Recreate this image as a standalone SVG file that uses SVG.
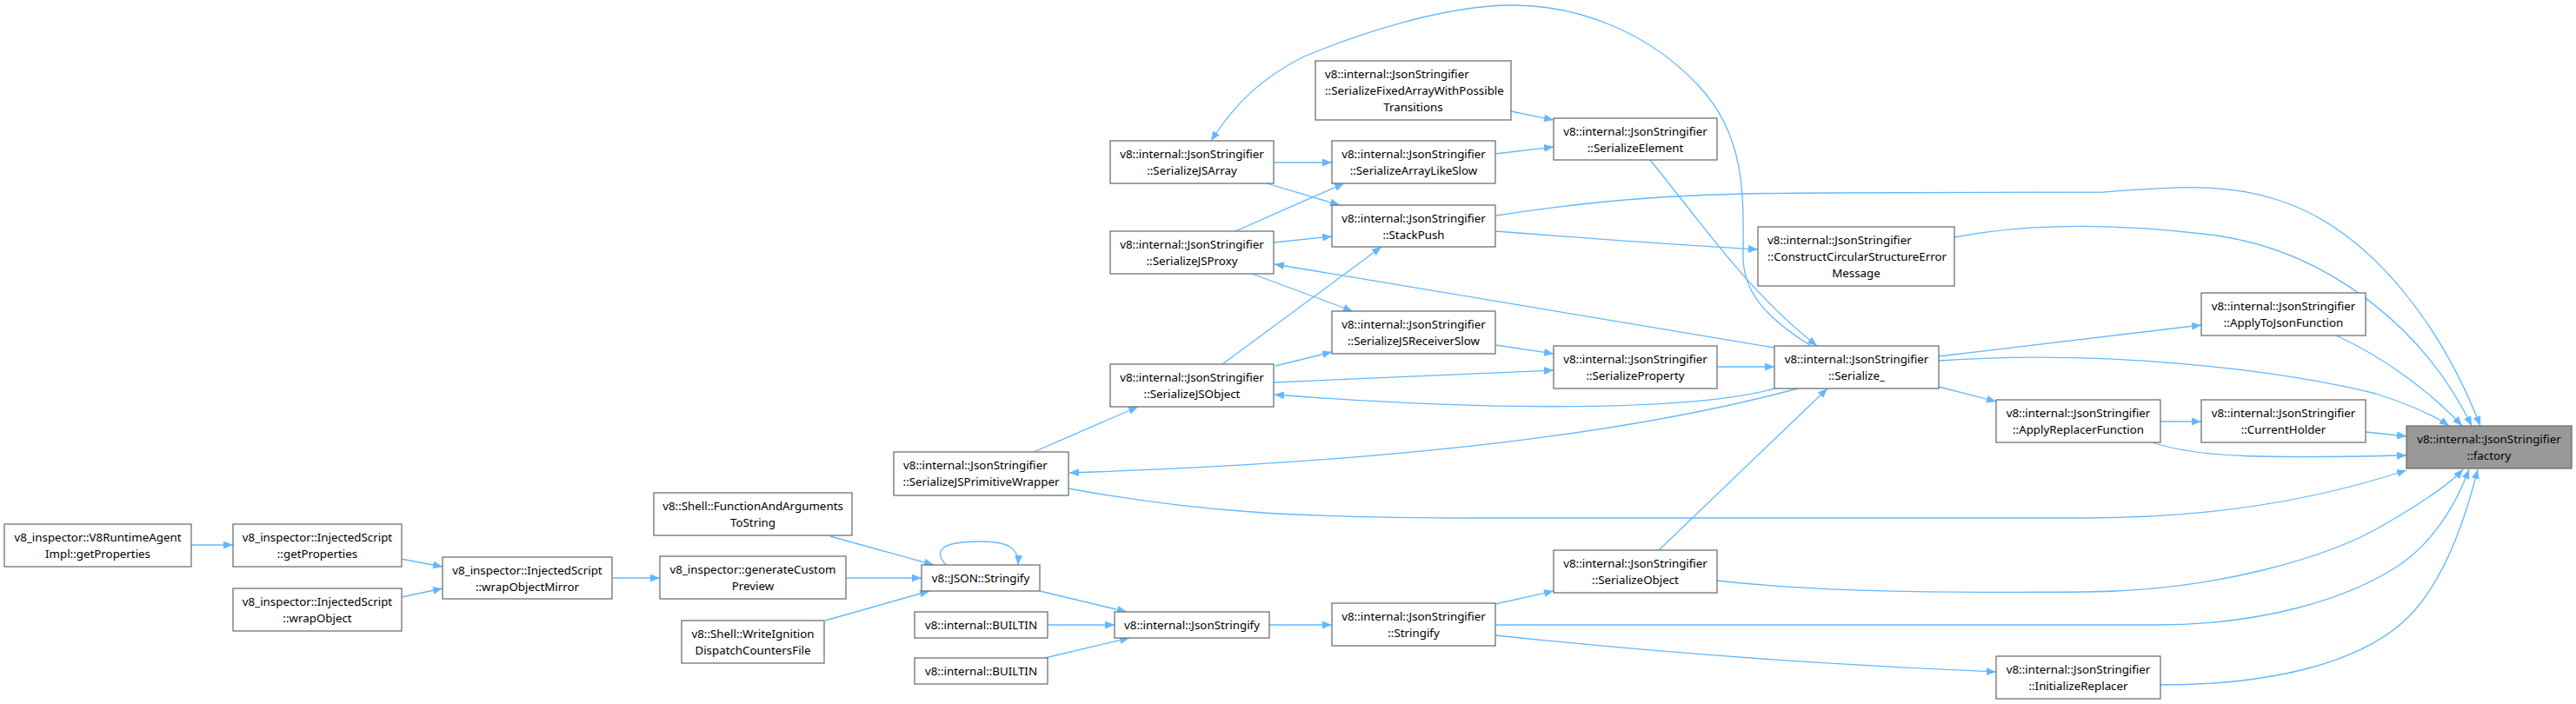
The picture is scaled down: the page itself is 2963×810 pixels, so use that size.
<svg xmlns="http://www.w3.org/2000/svg" width="2963" height="810" viewBox="0 0 2963 810">
<style>
.node rect{fill:#ffffff;stroke:#666666;stroke-width:1.2}
.node.hl rect{fill:#999999}
text{font-family:"Noto Sans","DejaVu Sans",sans-serif;font-size:13.33px;fill:#000000}
.c{text-anchor:middle}
.l{text-anchor:start}
#edges path{fill:none;stroke:#63B8FF;stroke-width:1.3;marker-end:url(#arr)}
</style>
<defs>
<marker id="arr" markerUnits="userSpaceOnUse" viewBox="0 0 11 9" markerWidth="11" markerHeight="9" refX="11" refY="4.5" orient="auto">
<path d="M0,0 L11,4.5 L0,9 z" fill="#63B8FF"/>
</marker>
</defs>
<rect width="2963" height="810" fill="#ffffff"/>
<g id="edges">
<path d="M220,627 L268,627"/>
<path d="M461,643 L509,652"/>
<path d="M462,687 L509,677"/>
<path d="M704,665 L759,665"/>
<path d="M955,617 L1074,650"/>
<path d="M973,665 L1060,665"/>
<path d="M949,714 L1069,680"/>
<path d="M1088,650 C1072,632 1085,623 1128,623 C1162,623 1172,632 1171,650"/>
<path d="M1196,680 L1296,704"/>
<path d="M1205,719 L1282,719"/>
<path d="M1202,757 L1299,734"/>
<path d="M1460,719 L1532,719"/>
<path d="M1720,695 L1787,680"/>
<path d="M1720,719 L2480,719 C2600,719 2700,690 2760,650 C2800,622 2825,580 2840,540"/>
<path d="M1720,731 C1900,750 2100,765 2296,773"/>
<path d="M2485,788 C2620,788 2720,760 2770,710 C2810,670 2835,600 2850,540"/>
<path d="M1908,633 L2102,447"/>
<path d="M1975,668 C2100,682 2250,682 2400,681 C2550,680 2680,640 2740,605 C2780,582 2815,560 2833,540"/>
<path d="M1189,520 L1309,468"/>
<path d="M1229,562 C1380,590 1500,596 1700,596 L2400,596 C2560,596 2680,570 2768,541"/>
<path d="M2068,447 C1900,492 1650,530 1230,544"/>
<path d="M2041,447 C1960,470 1750,476 1466,454"/>
<path d="M2041,400 L1466,304"/>
<path d="M2083,398 C2030,365 2005,335 2005,295 C2005,230 2010,160 1955,100 C1900,40 1820,6 1740,6 C1660,6 1560,40 1500,65 C1450,90 1420,120 1393,162"/>
<path d="M2230,410 L2532,374"/>
<path d="M2230,445 L2296,462"/>
<path d="M2230,415 C2420,402 2620,425 2733,453 C2770,465 2800,478 2817,490"/>
<path d="M1975,422 L2041,422"/>
<path d="M1898,184 C1960,260 2010,335 2090,398"/>
<path d="M1467,421 L1532,405"/>
<path d="M1465,440 L1787,426"/>
<path d="M1406,419 L1589,284"/>
<path d="M1720,397 L1787,407"/>
<path d="M1440,315 L1556,358"/>
<path d="M1465,279 L1532,272"/>
<path d="M1421,266 L1546,211"/>
<path d="M1465,187 L1532,187"/>
<path d="M1457,211 L1541,236"/>
<path d="M1720,177 L1787,169"/>
<path d="M1738,128 L1787,138"/>
<path d="M1720,266 C1850,276 1950,283 2022,287"/>
<path d="M1721,248 C1850,228 1950,222 2100,222 L2420,221 C2500,215 2560,210 2620,230 C2730,265 2810,380 2853,490"/>
<path d="M2248,273 C2340,255 2450,258 2550,271 C2680,290 2790,380 2843,490"/>
<path d="M2687,386 C2740,410 2795,450 2832,490"/>
<path d="M2485,485 L2532,485"/>
<path d="M2476,509 C2530,528 2620,527 2768,524"/>
<path d="M2721,497 L2768,502"/>
</g>
<g id="n1" class="node"><rect x="5" y="603" width="215" height="49"/><text class="c" x="112.5" y="622.5">v8_inspector::V8RuntimeAgent</text><text class="c" x="112.5" y="641.5">Impl::getProperties</text></g>
<g id="n2" class="node"><rect x="268" y="603" width="194" height="49"/><text class="c" x="365" y="622.5">v8_inspector::InjectedScript</text><text class="c" x="365" y="641.5">::getProperties</text></g>
<g id="n3" class="node"><rect x="268" y="677" width="194" height="49"/><text class="c" x="365" y="696.5">v8_inspector::InjectedScript</text><text class="c" x="365" y="715.5">::wrapObject</text></g>
<g id="n4" class="node"><rect x="509" y="641" width="195" height="48"/><text class="c" x="606.5" y="660.5">v8_inspector::InjectedScript</text><text class="c" x="606.5" y="679.5">::wrapObjectMirror</text></g>
<g id="n5" class="node"><rect x="752" y="567" width="228" height="49"/><text class="c" x="866" y="586.5">v8::Shell::FunctionAndArguments</text><text class="c" x="866" y="605.5">ToString</text></g>
<g id="n6" class="node"><rect x="759" y="640" width="214" height="49"/><text class="c" x="866" y="659.5">v8_inspector::generateCustom</text><text class="c" x="866" y="678.5">Preview</text></g>
<g id="n7" class="node"><rect x="784" y="714" width="164" height="49"/><text class="c" x="866" y="733.5">v8::Shell::WriteIgnition</text><text class="c" x="866" y="752.5">DispatchCountersFile</text></g>
<g id="n8" class="node"><rect x="1060" y="650" width="136" height="30"/><text class="c" x="1128" y="669.5">v8::JSON::Stringify</text></g>
<g id="n9" class="node"><rect x="1052" y="704" width="153" height="30"/><text class="c" x="1128.5" y="723.5">v8::internal::BUILTIN</text></g>
<g id="n10" class="node"><rect x="1052" y="757" width="153" height="30"/><text class="c" x="1128.5" y="776.5">v8::internal::BUILTIN</text></g>
<g id="n11" class="node"><rect x="1282" y="704" width="178" height="30"/><text class="c" x="1371" y="723.5">v8::internal::JsonStringify</text></g>
<g id="n12" class="node"><rect x="1532" y="694" width="188" height="49"/><text class="c" x="1626" y="713.5">v8::internal::JsonStringifier</text><text class="c" x="1626" y="732.5">::Stringify</text></g>
<g id="n13" class="node"><rect x="1787" y="633" width="188" height="49"/><text class="c" x="1881" y="652.5">v8::internal::JsonStringifier</text><text class="c" x="1881" y="671.5">::SerializeObject</text></g>
<g id="n14" class="node"><rect x="2296" y="755" width="189" height="49"/><text class="c" x="2390.5" y="774.5">v8::internal::JsonStringifier</text><text class="c" x="2390.5" y="793.5">::InitializeReplacer</text></g>
<g id="n15" class="node"><rect x="1028" y="520" width="201" height="50"/><text class="l" x="1039" y="539.5">v8::internal::JsonStringifier</text><text class="c" x="1128.5" y="558.5">::SerializeJSPrimitiveWrapper</text></g>
<g id="n16" class="node"><rect x="1277" y="419" width="188" height="49"/><text class="c" x="1371" y="438.5">v8::internal::JsonStringifier</text><text class="c" x="1371" y="457.5">::SerializeJSObject</text></g>
<g id="n17" class="node"><rect x="1277" y="266" width="188" height="49"/><text class="c" x="1371" y="285.5">v8::internal::JsonStringifier</text><text class="c" x="1371" y="304.5">::SerializeJSProxy</text></g>
<g id="n18" class="node"><rect x="1277" y="162" width="188" height="49"/><text class="c" x="1371" y="181.5">v8::internal::JsonStringifier</text><text class="c" x="1371" y="200.5">::SerializeJSArray</text></g>
<g id="n19" class="node"><rect x="1532" y="162" width="188" height="49"/><text class="c" x="1626" y="181.5">v8::internal::JsonStringifier</text><text class="c" x="1626" y="200.5">::SerializeArrayLikeSlow</text></g>
<g id="n20" class="node"><rect x="1532" y="236" width="188" height="48"/><text class="c" x="1626" y="255.5">v8::internal::JsonStringifier</text><text class="c" x="1626" y="274.5">::StackPush</text></g>
<g id="n21" class="node"><rect x="1532" y="358" width="188" height="49"/><text class="c" x="1626" y="377.5">v8::internal::JsonStringifier</text><text class="c" x="1626" y="396.5">::SerializeJSReceiverSlow</text></g>
<g id="n22" class="node"><rect x="1513" y="70" width="225" height="68"/><text class="l" x="1524" y="89.5">v8::internal::JsonStringifier</text><text class="l" x="1524" y="108.5">::SerializeFixedArrayWithPossible</text><text class="c" x="1625.5" y="127.5">Transitions</text></g>
<g id="n23" class="node"><rect x="1787" y="136" width="188" height="48"/><text class="c" x="1881" y="155.5">v8::internal::JsonStringifier</text><text class="c" x="1881" y="174.5">::SerializeElement</text></g>
<g id="n24" class="node"><rect x="1787" y="398" width="188" height="49"/><text class="c" x="1881" y="417.5">v8::internal::JsonStringifier</text><text class="c" x="1881" y="436.5">::SerializeProperty</text></g>
<g id="n25" class="node"><rect x="2022" y="261" width="226" height="68"/><text class="l" x="2033" y="280.5">v8::internal::JsonStringifier</text><text class="l" x="2033" y="299.5">::ConstructCircularStructureError</text><text class="c" x="2135" y="318.5">Message</text></g>
<g id="n26" class="node"><rect x="2041" y="398" width="189" height="49"/><text class="c" x="2135.5" y="417.5">v8::internal::JsonStringifier</text><text class="c" x="2135.5" y="436.5">::Serialize_</text></g>
<g id="n27" class="node"><rect x="2532" y="337" width="189" height="49"/><text class="c" x="2626.5" y="356.5">v8::internal::JsonStringifier</text><text class="c" x="2626.5" y="375.5">::ApplyToJsonFunction</text></g>
<g id="n28" class="node"><rect x="2296" y="460" width="189" height="49"/><text class="c" x="2390.5" y="479.5">v8::internal::JsonStringifier</text><text class="c" x="2390.5" y="498.5">::ApplyReplacerFunction</text></g>
<g id="n29" class="node"><rect x="2532" y="460" width="189" height="49"/><text class="c" x="2626.5" y="479.5">v8::internal::JsonStringifier</text><text class="c" x="2626.5" y="498.5">::CurrentHolder</text></g>
<g id="n30" class="node hl"><rect x="2768" y="490" width="190" height="49"/><text class="c" x="2863" y="509.5">v8::internal::JsonStringifier</text><text class="c" x="2863" y="528.5">::factory</text></g>
</svg>
